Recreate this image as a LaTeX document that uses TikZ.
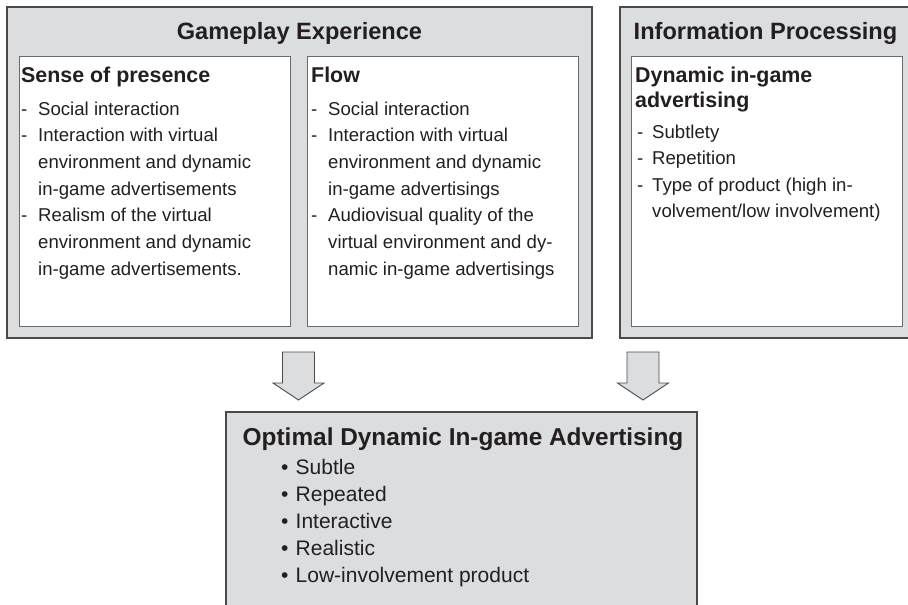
\documentclass[tikz,border=0pt]{standalone}
\usepackage{fontspec}
\setmainfont{Liberation Sans}
\definecolor{boxgray}{HTML}{DCDDDF}
\definecolor{edge}{HTML}{4A4A4A}
\definecolor{inedge}{HTML}{6A6A6A}
\definecolor{ink}{HTML}{231F20}
\begin{document}
\begin{tikzpicture}[x=1pt,y=-1pt,
  outerbox/.style={fill=boxgray, draw=edge, line width=1.2pt, inner sep=0pt, outer sep=0pt, anchor=north west},
  innerbox/.style={fill=white, draw=inedge, line width=1pt, inner sep=0pt, outer sep=0pt, anchor=north west},
  plainfill/.style={fill=boxgray, inner sep=0pt, outer sep=0pt, anchor=north west},
  openedge/.style={draw=edge, line width=1.2pt},
  blockarrow/.style={fill=boxgray, draw=edge, line width=0.9pt, line join=miter},
  txt/.style={anchor=base west, inner sep=0pt, text=ink, font=\fontsize{18.6}{22}\selectfont},
  head/.style={anchor=base west, inner sep=0pt, text=ink, font=\fontsize{21.4}{25}\selectfont\bfseries},
  ttl/.style={anchor=base, inner sep=0pt, text=ink, font=\fontsize{23.6}{28}\selectfont\bfseries},
  btitle/.style={anchor=base west, inner sep=0pt, text=ink, font=\fontsize{24.4}{28}\selectfont\bfseries},
  bitem/.style={anchor=base west, inner sep=0pt, text=ink, font=\fontsize{21}{25}\selectfont}
]
\useasboundingbox (0,0) rectangle (908,605);

% outer boxes
\node[outerbox, minimum width=585pt, minimum height=331pt] (gp) at (7,7) {};
\node[plainfill, minimum width=288pt, minimum height=331pt] (ip) at (620,7) {};
\draw[openedge] (ip.north east) -- (ip.north west) -- (ip.south west) -- (ip.south east);

% inner boxes
\node[innerbox, minimum width=271pt, minimum height=270pt] (sp) at (19,56) {};
\node[innerbox, minimum width=271pt, minimum height=270pt] (fl) at (307,56) {};
\node[innerbox, minimum width=271pt, minimum height=270pt] (dy) at (631,56) {};

% titles
\node[ttl] (gpt) at (299.5,39) {Gameplay Experience};
\node[ttl] (ipt) at (765.5,39) {Information Processing};

% Sense of presence
\node[head] (sph) at (21,82) {Sense of presence};
\node[txt] (spd1) at (21,115) {-};
\node[txt] (spi1) at (38,115) {Social interaction};
\node[txt] (spd2) at (21,141.7) {-};
\node[txt] (spi2) at (38,141.7) {Interaction with virtual};
\node[txt] (spi2b) at (38,168.4) {environment and dynamic};
\node[txt] (spi2c) at (38,195.1) {in-game advertisements};
\node[txt] (spd3) at (21,221.8) {-};
\node[txt] (spi3) at (38,221.8) {Realism of the virtual};
\node[txt] (spi3b) at (38,248.5) {environment and dynamic};
\node[txt] (spi3c) at (38,275.2) {in-game advertisements.};

% Flow
\node[head] (flh) at (311,82) {Flow};
\node[txt] (fld1) at (311,115) {-};
\node[txt] (fli1) at (328,115) {Social interaction};
\node[txt] (fld2) at (311,141.7) {-};
\node[txt] (fli2) at (328,141.7) {Interaction with virtual};
\node[txt] (fli2b) at (328,168.4) {environment and dynamic};
\node[txt] (fli2c) at (328,195.1) {in-game advertisings};
\node[txt] (fld3) at (311,221.8) {-};
\node[txt] (fli3) at (328,221.8) {Audiovisual quality of the};
\node[txt] (fli3b) at (328,248.5) {virtual environment and dy-};
\node[txt] (fli3c) at (328,275.2) {namic in-game advertisings};

% Dynamic in-game advertising
\node[head] (dyh1) at (635,82) {Dynamic in-game};
\node[head] (dyh2) at (635,107) {advertising};
\node[txt] (dyd1) at (637,138) {-};
\node[txt] (dyi1) at (652,138) {Subtlety};
\node[txt] (dyd2) at (637,164.5) {-};
\node[txt] (dyi2) at (652,164.5) {Repetition};
\node[txt] (dyd3) at (637,191) {-};
\node[txt] (dyi3) at (652,191) {Type of product (high in-};
\node[txt] (dyi3b) at (652,217.5) {volvement/low involvement)};

% bottom box
\node[plainfill, minimum width=471pt, minimum height=193pt] (opt) at (226,412) {};
\draw[openedge] (opt.south west) -- (opt.north west) -- (opt.north east) -- (opt.south east);
\node[btitle] (optt) at (242.5,445) {Optimal Dynamic In-game Advertising};
\node[bitem] (ob1) at (281,474) {•};
\node[bitem] (ot1) at (295.5,474) {Subtle};
\node[bitem] (ob2) at (281,501) {•};
\node[bitem] (ot2) at (295.5,501) {Repeated};
\node[bitem] (ob3) at (281,528) {•};
\node[bitem] (ot3) at (295.5,528) {Interactive};
\node[bitem] (ob4) at (281,555) {•};
\node[bitem] (ot4) at (295.5,555) {Realistic};
\node[bitem] (ob5) at (281,582) {•};
\node[bitem] (ot5) at (295.5,582) {Low-involvement product};

% block arrows
\coordinate (tipa) at (298.5,400);
\coordinate (tipb) at (643,400);
\draw[blockarrow] (tipa) -- ++(-25.5,-17) -- ++(9.5,0) -- ++(0,-31) -- ++(32,0) -- ++(0,31) -- ++(9.5,0) -- cycle;
\draw[blockarrow] (tipb) -- ++(-25.5,-17) -- ++(9.5,0) -- ++(0,-31) -- ++(32,0) -- ++(0,31) -- ++(9.5,0) -- cycle;
\end{tikzpicture}
\end{document}
